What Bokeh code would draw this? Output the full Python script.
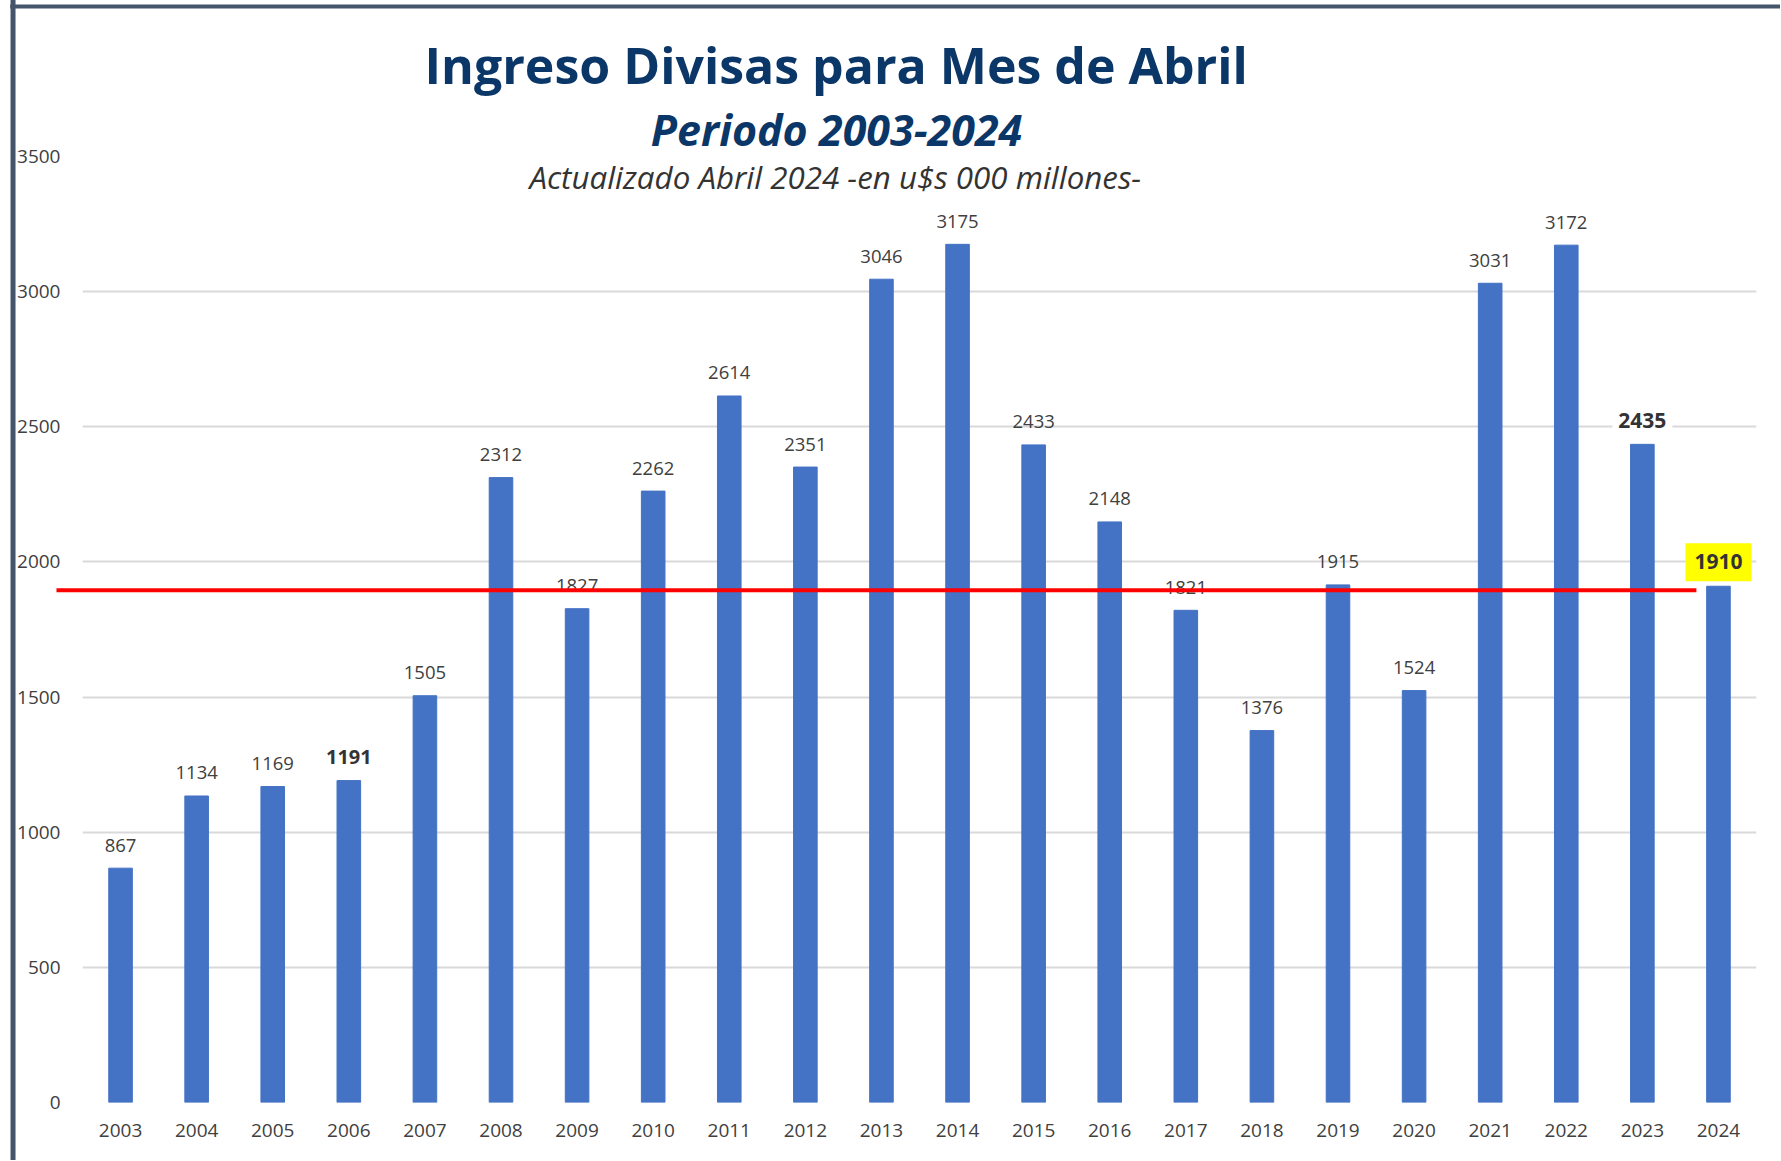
from bokeh.plotting import figure
from bokeh.models import ColumnDataSource, FactorRange, Range1d, FixedTicker
from bokeh.core.properties import value
from bokeh.embed import file_html
from bokeh.resources import INLINE

# ---------------- data ----------------
anios = ["2003", "2004", "2005", "2006", "2007", "2008", "2009", "2010", "2011",
         "2012", "2013", "2014", "2015", "2016", "2017", "2018", "2019", "2020",
         "2021", "2022", "2023", "2024"]
ingresos = [867, 1134, 1169, 1191, 1505, 2312, 1827, 2262, 2614, 2351, 3046,
            3175, 2433, 2148, 1821, 1376, 1915, 1524, 3031, 3172, 2435, 1910]
y_ticks = [0, 500, 1000, 1500, 2000, 2500, 3000, 3500]
linea_referencia = 1895
anio_negrita = ["2006"]
anio_fondo_blanco = ["2023"]
anio_resaltado = ["2024"]

titulo = "Ingreso Divisas para  Mes de Abril"
subtitulo = "Periodo 2003-2024"
nota = "Actualizado  Abril  2024 -en u$s 000 millones-"

FONT = "Open Sans"
TXT = "#404040"
BLUE = "#4472C4"
NAVY = "#0B3768"

etiquetas = [str(v) for v in ingresos]
src = ColumnDataSource(dict(anio=anios, valor=ingresos, etiqueta=etiquetas))

def subset(keys):
    idx = [i for i, a in enumerate(anios) if a in keys]
    return ColumnDataSource(dict(anio=[anios[i] for i in idx],
                                 valor=[ingresos[i] for i in idx],
                                 etiqueta=[etiquetas[i] for i in idx]))

especiales = anio_negrita + anio_fondo_blanco + anio_resaltado
src_normal = subset([a for a in anios if a not in especiales])

p = figure(width=1780, height=1160,
           x_range=FactorRange(factors=anios, range_padding=0),
           y_range=Range1d(0, 3500),
           output_backend="svg", toolbar_location=None, title=None,
           min_border_left=82, min_border_right=24,
           min_border_top=156, min_border_bottom=58)
p.outline_line_color = None
p.background_fill_color = "white"
p.border_fill_color = "white"

p.xgrid.grid_line_color = None
p.ygrid.grid_line_color = "#D9D9D9"
p.ygrid.grid_line_width = 2
p.ygrid.ticker = FixedTicker(ticks=y_ticks)

p.yaxis.ticker = FixedTicker(ticks=y_ticks)
for ax in (p.xaxis, p.yaxis):
    ax.axis_line_color = None
    ax.major_tick_line_color = None
    ax.minor_tick_line_color = None
    ax.major_label_text_font = FONT
    ax.major_label_text_font_size = "19px"
    ax.major_label_text_color = TXT
p.yaxis.major_label_standoff = 16
p.xaxis.major_label_standoff = 15

# bars
p.vbar(x="anio", top="valor", width=0.31, source=src,
       fill_color=BLUE, line_color=BLUE, line_width=1)

# data labels
p.text(x="anio", y="valor", text="etiqueta", source=src_normal,
       text_align="center", text_baseline="alphabetic", y_offset=-23,
       text_font=value(FONT), text_font_size="18.5px", text_color=TXT)
p.text(x="anio", y="valor", text="etiqueta", source=subset(anio_negrita),
       text_align="center", text_baseline="alphabetic", y_offset=-24,
       text_font=value(FONT), text_font_style="bold", text_font_size="20px",
       text_color="#333333")
p.text(x="anio", y="valor", text="etiqueta", source=subset(anio_fondo_blanco),
       text_align="center", text_baseline="alphabetic", y_offset=-24,
       text_font=value(FONT), text_font_style="bold", text_font_size="21px",
       text_color="#333333", background_fill_color="white", padding=6)
p.text(x="anio", y="valor", text="etiqueta", source=subset(anio_resaltado),
       text_align="center", text_baseline="alphabetic", y_offset=-24,
       text_font=value(FONT), text_font_style="bold", text_font_size="21px",
       text_color="#333333", background_fill_color="#FFFF00",
       padding=dict(left=9, right=9, top=11, bottom=12))

# reference red line (drawn above everything, may extend beyond the frame)
p.segment(x0=[-0.342], y0=[linea_referencia], x1=[21.21], y1=[linea_referencia],
          line_color="#FF0000", line_width=4, level="overlay")

# chart frame border (left and top)
p.segment(x0=[-0.913], y0=[-260], x1=[-0.913], y1=[4100],
          line_color="#44546A", line_width=5, level="overlay")
p.segment(x0=[-0.95], y0=[4055], x1=[23.5], y1=[4055],
          line_color="#44546A", line_width=4, level="overlay")

# titles (overlay level so they are drawn outside the plot frame)
p.text(x=[9.99], y=[3837], text=[titulo], text_align="center",
       text_baseline="alphabetic", text_font=value(FONT),
       text_font_style="bold", text_font_size="50px",
       text_color=NAVY, level="overlay")
p.text(x=[9.91], y=[3600], text=[subtitulo], text_align="center",
       text_baseline="alphabetic", text_font=value(FONT),
       text_font_style="bold italic", text_font_size="43px",
       text_color=NAVY, level="overlay")
p.text(x=[10.0], y=[3424], text=[nota], text_align="center",
       text_baseline="alphabetic", text_font=value(FONT),
       text_font_style="italic", text_font_size="31.3px",
       text_color="#333333", level="overlay")

open("out.html", "w").write(file_html(p, INLINE))
